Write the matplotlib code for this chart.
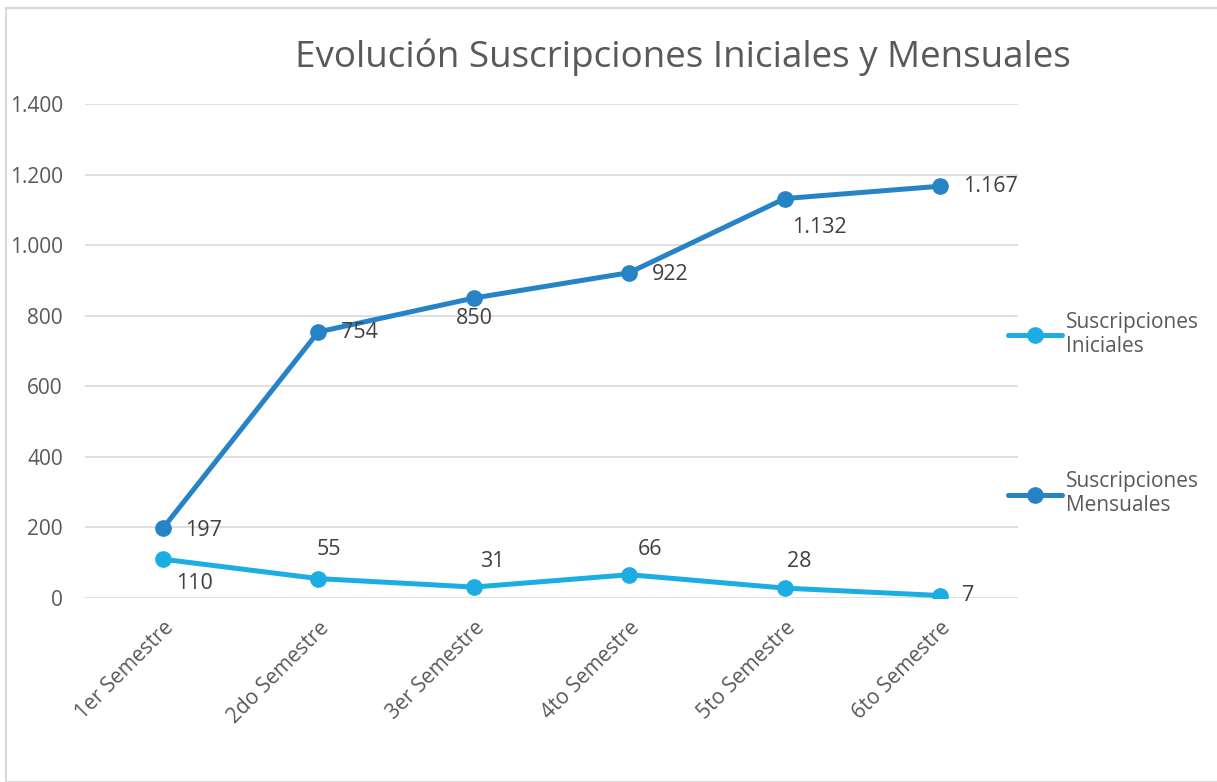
import matplotlib
matplotlib.use("Agg")
import matplotlib.pyplot as plt
from matplotlib.ticker import FuncFormatter
from matplotlib.patches import Rectangle

semestres = ["1er Semestre", "2do Semestre", "3er Semestre",
             "4to Semestre", "5to Semestre", "6to Semestre"]
iniciales = [110, 55, 31, 66, 28, 7]
mensuales = [197, 754, 850, 922, 1132, 1167]

# label offsets in pixels (dx, dy) per point
off_ini = [(32, -24), (11, 29), (19, 26), (21, 25), (14, 27), (28, 0)]
off_men = [(41, -2), (41, -1), (1, -20), (41, -2), (35, -29), (50, 0)]

c_ini = "#1CADE4"
c_men = "#2683C6"
grey = "#595959"

plt.rcParams['font.family'] = ['Open Sans', 'DejaVu Sans']

fig = plt.figure(figsize=(12.17, 7.82), dpi=100)
fig.patches.append(Rectangle((6 / 1217, 0), 1.0, 1 - 8 / 782, transform=fig.transFigure,
                             fill=False, edgecolor="#D9D9D9", lw=1.5))
ax = fig.add_axes([85 / 1217, 1 - 598 / 782, 933 / 1217, 494 / 782])

x = list(range(len(semestres)))
ax.plot(x, iniciales, color=c_ini, lw=3.6, marker="o", ms=11, label="Suscripciones\nIniciales",
        solid_capstyle="round")
ax.plot(x, mensuales, color=c_men, lw=3.6, marker="o", ms=11, label="Suscripciones\nMensuales",
        solid_capstyle="round")

for xi, v, o in zip(x, iniciales, off_ini):
    ax.annotate(f"{v:,}".replace(",", "."), (xi, v), xytext=o, textcoords="offset pixels",
                ha="center", va="center", fontsize=15.5, color="#404040")
for xi, v, o in zip(x, mensuales, off_men):
    ax.annotate(f"{v:,}".replace(",", "."), (xi, v), xytext=o, textcoords="offset pixels",
                ha="center", va="center", fontsize=15.5, color="#404040")

ax.set_xlim(-0.5, 5.5)
ax.set_ylim(0, 1400)
ax.set_yticks(range(0, 1401, 200))
ax.yaxis.set_major_formatter(FuncFormatter(lambda v, p: f"{int(v):,}".replace(",", ".")))
ax.grid(axis="y", color="#D9D9D9", lw=1.2)
ax.set_axisbelow(True)
for s in ax.spines.values():
    s.set_visible(False)
ax.tick_params(axis="both", length=0, labelsize=15, labelcolor=grey)
ax.tick_params(axis="y", pad=16)
ax.set_xticks(x)
ax.set_xticklabels(semestres, rotation=45, ha="right", rotation_mode="anchor")
ax.tick_params(axis="x", pad=14)

fig.text(683 / 1217, 1 - 57 / 782, "Evolución Suscripciones Iniciales y Mensuales",
         ha="center", va="center", fontsize=26.5, color=grey)

leg = ax.legend(loc="center left", bbox_to_anchor=(1008 / 1217, 1 - 414 / 782),
                bbox_transform=fig.transFigure, frameon=False, fontsize=15,
                handlelength=2.6, handletextpad=0.2, labelspacing=5.5, borderpad=0,
                borderaxespad=0)
for t in leg.get_texts():
    t.set_color(grey)

fig.savefig("out.png", dpi=100)
